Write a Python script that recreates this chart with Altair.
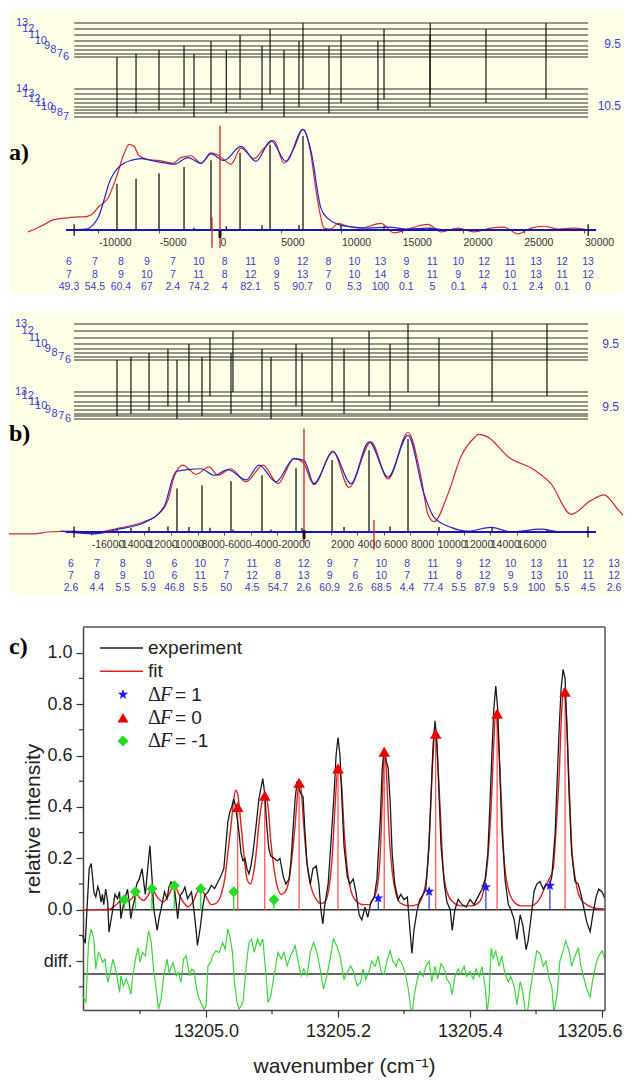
import altair as alt
import numpy as np
import pandas as pd

SANS = "Liberation Sans"
SERIF = "Liberation Serif"
TXT_BLUE = "#3b3fcf"
YELLOW = "#fffee6"
RED_LINE = "#d42a2a"
BLUE_LINE = "#2424c8"

# ===================== panel a data =====================
a_upper_F = [13, 12, 11, 10, 9, 8, 7, 6]
a_upper_E = [94, 88, 82, 76, 71, 67, 63, 60]
a_lower_F = [14, 13, 12, 11, 10, 9, 8, 7]
a_lower_E = [28, 23, 18, 14, 10, 7, 4, 0]
a_t_up = [6, 7, 8, 9, 7, 10, 8, 11, 9, 12, 8, 10, 13, 9, 11, 10, 12, 11, 13, 12, 13]
a_t_lo = [7, 8, 9, 10, 7, 11, 8, 12, 9, 13, 7, 10, 14, 8, 11, 9, 12, 10, 13, 11, 12]
a_t_f = [-8480, -6910, -5020, -2960, -2140, -740, 520, 1650, 3460, 4120, 5270,
         6500, 6830, 8970, 9960, 13000, 13500, 17280, 17300, 21890, 26830]
a_t_I = [49.3, 54.5, 60.4, 67, 2.4, 74.2, 4, 82.1, 5, 90.7, 0, 5.3, 100, 0.1, 5,
         0.1, 4, 0.1, 2.4, 0.1, 0]
a_J = ["9.5", "10.5"]
a_J_E = [73, 11]
a_diagram = [-12000, 30300]
a_baseline = [-12670, 30950]
a_ticks = [-10000, -5000, 0, 5000, 10000, 15000, 20000, 25000, 30000]
a_red_f = [-15800, -14730, -13660, -12510, -11690, -11190, -10620, -9960, -9220, -8560,
           -7900, -7490, -7080, -6670, -5930, -5100, -4280, -3870, -3210, -2390,
           -1560, -740, -80, 910, 1730, 2800, 3620, 4440, 5270, 6090,
           6830, 7490, 7900, 8310, 8560, 9140, 9710, 10530, 11600, 13250,
           14320, 15720, 17120, 18190, 19590, 20910, 22300, 23370, 24530, 25600,
           26670, 27820, 29140, 30290]
a_red_v = [-2, 4, 11, 13, 14, 14, 16, 25, 34, 55,
           81, 91, 89, 79, 75, 74, 72, 71, 77, 79,
           71, 82, 79, 70, 87, 76, 87, 95, 71, 87,
           107, 80, 42, 13, 2, 1, 7, 4, 2, 7,
           -3, 2, 6, -2, 2, -2, 2, 3, -4, 2,
           4, 1, 2, 0]
a_blue_f = [-12670, -11030, -10040, -8970, -8400, -7900, -7330, -6500, -5680, -4860,
            -3790, -2630, -1560, -740, 330, 1730, 2960, 4200, 5430, 6830,
            7490, 8310, 8890, 9710, 11030, 12180, 13830, 15470, 17120, 18770, 30950]
a_blue_v = [0, 1, 13, 55, 66, 71, 74, 76, 74, 72,
            70, 77, 71, 81, 74, 89, 73, 95, 73, 107,
            84, 23, 12, 6, 3, 2, 3, 1, 2, 0, 0]
a_mark_f = [0, -660]
a_mark_lo = [-19, -19]
a_mark_hi = [111, 13]
a_zero = [0]
a_zero_lo = [-8.5]
a_zero_hi = [-1]

# ===================== panel b data =====================
b_upper_F = [13, 12, 11, 10, 9, 8, 7, 6]
b_upper_E = [95, 88, 81, 75, 70, 66, 62, 59]
b_lower_F = [13, 12, 11, 10, 9, 8, 7, 6]
b_lower_E = [27, 23, 17, 13, 9, 5, 3, 0]
b_t_up = [6, 7, 8, 9, 6, 10, 7, 11, 8, 12, 9, 7, 10, 8, 11, 9, 12, 10, 13, 11, 12, 13]
b_t_lo = [7, 8, 9, 10, 6, 11, 7, 12, 8, 13, 9, 6, 10, 7, 11, 8, 12, 9, 13, 10, 11, 12]
b_t_f = [-14060, -13010, -11650, -10230, -9550, -8650, -7670, -7070, -5490, -5340, -3160,
         -2480, -600, -150, 2110, 3010, 4890, 6470, 7820, 10150, 14140, 18270]
b_t_I = [2.6, 4.4, 5.5, 5.9, 46.8, 5.5, 50, 4.5, 54.7, 2.6, 60.9, 2.6, 68.5, 4.4,
         77.4, 5.5, 87.9, 5.9, 100, 5.5, 4.5, 2.6]
b_J = ["9.5", "9.5"]
b_J_E = [75, 12]
b_diagram = [-17290, 21350]
b_baseline = [-17890, 21950]
b_ticks = [-16000, -14000, -12000, -10000, -8000, -6000, -4000, -2000, 0,
           2000, 4000, 6000, 8000, 10000, 12000, 14000, 16000]
b_red_f = [-22180, -20300, -19250, -17290, -15790, -15260, -13980, -12030, -10980, -10230,
           -9770, -9100, -8120, -7140, -6470, -5490, -4360, -3080, -1950, -750,
           -80, 750, 2180, 3380, 5040, 6320, 7820, 8800, 9320, 9770,
           10830, 11800, 12710, 13160, 13830, 15340, 17290, 18570, 20080, 21580,
           22560, 23610, 24810]
b_red_v = [-2, -2, 0, 1, -2, 0, 4, 11, 19, 34,
           59, 72, 62, 70, 61, 68, 54, 72, 52, 79,
           75, 51, 87, 48, 97, 57, 107, 59, 19, 11,
           41, 81, 100, 105, 102, 81, 67, 52, 19, 34,
           40, 24, 5]
b_blue_f = [-18270, -15790, -13980, -12030, -10530, -9620, -8720, -7740, -6770, -5710,
            -4360, -3380, -2110, -750, 0, 750, 2180, 3530, 4890, 6320,
            7820, 9020, 9770, 11050, 12330, 14060, 15560, 17820, 19320, 21950]
b_blue_v = [1, -2, 3, 10, 27, 65, 67, 68, 61, 67,
            56, 72, 54, 79, 77, 52, 86, 52, 97, 59,
            104, 41, 16, 5, 1, 5, 0, 3, 0, 0]
b_mark_f = [0, 5260]
b_mark_lo = [-11, -19]
b_mark_hi = [111, 13]
b_zero = [0]
b_zero_lo = [-7.5]
b_zero_hi = [2]

# ===================== panel c data =====================
c_base = 13205.0
c_xdom = [13204.8136, 13205.6045]
c_ydom = [-0.39, 1.1]
c_exp_dw = [-187, -183, -180, -177, -174, -172, -170, -167, -164, -162,
            -159, -157, -155, -152, -149, -147, -144, -142, -138, -134,
            -131, -129, -125, -122, -119, -116, -114, -111, -108, -105,
            -101, -97, -92, -88, -85, -82, -79, -74, -71, -68,
            -63, -59, -56, -53, -48, -45, -43, -39, -35, -32,
            -28, -22, -18, -15, -13, -9, -5, -2, 3, 8,
            13, 18, 23, 27,
            30, 33, 36, 39, 42, 44, 47, 50, 53, 56,
            59, 62, 65, 68, 71, 76, 80, 83, 86, 89,
            92, 95, 98, 103, 108, 112, 117, 121, 126, 129,
            132, 135, 138, 141, 144, 147, 150, 153, 158, 162,
            167, 171, 174, 177, 180, 185, 189, 194, 197, 200,
            203, 206, 209, 214, 218, 223, 227, 232, 236, 241,
            245, 250, 255, 259, 264, 267, 270, 273, 276, 279,
            282, 286, 291, 295, 300, 305, 309, 312, 315, 320,
            324, 329, 333, 338, 341, 344, 347, 350, 353, 356,
            361, 365, 370, 373, 377, 382, 388, 394, 400, 406,
            412, 418, 423, 427, 430, 433, 436, 439, 442, 445,
            448, 453, 458, 462, 467, 471, 476, 480, 485, 488,
            492, 497, 501, 506, 511, 515, 520, 524, 529, 532,
            535, 538, 541, 544, 547, 550, 554, 559, 564, 568,
            573, 577, 582, 586, 591, 595, 600, 604]
c_exp_v = [-0.10, -0.13, 0.02, 0.16, 0.18, 0.13, 0.07, 0.05, 0.09, 0.075,
           0.03, 0.06, 0.02, 0.08, 0.03, -0.087, -0.04, -0.01, 0.06, 0.043,
           0.07, -0.035, 0.023, 0.05, 0.08, 0.02, -0.035, 0.01, 0.043, 0.10,
           0.12, 0.16, 0.06, 0.17, 0.25, 0.13, 0.0, -0.08, -0.03, 0.004,
           0.07, 0.043, 0.09, 0.108, 0.088, 0.02, -0.035, 0.056, 0.07, 0.088,
           0.043, 0.069, -0.009, -0.08, -0.139, -0.074, 0.01, 0.056, 0.069, 0.095,
           0.082, 0.108, 0.134, 0.16,
           0.25, 0.34, 0.38, 0.40, 0.43, 0.41, 0.36, 0.30, 0.22, 0.19,
           0.20, 0.16, 0.14, 0.17, 0.22, 0.33, 0.43, 0.47, 0.51, 0.45,
           0.33, 0.24, 0.21, 0.20, 0.19, 0.20, 0.13, 0.10, 0.12, 0.20,
           0.32, 0.43, 0.50, 0.47, 0.45, 0.44, 0.30, 0.18, 0.10, 0.16,
           0.17, 0.10, 0.0, -0.055, 0.02, 0.10, 0.25, 0.45, 0.60, 0.67,
           0.60, 0.42, 0.25, 0.13, 0.10, 0.12, 0.07, -0.02, -0.04, 0.01,
           -0.03, 0.03, 0.05, 0.12, 0.35, 0.55, 0.63, 0.58, 0.55, 0.42,
           0.22, 0.10, 0.04, 0.06, 0.04, 0.05, -0.08, -0.17, -0.08, 0.0,
           0.04, 0.06, 0.08, 0.25, 0.45, 0.64, 0.735, 0.65, 0.45, 0.25,
           0.10, 0.03, 0.0, -0.08, 0.0, 0.04, 0.02, 0.01, 0.04, 0.02,
           0.05, 0.08, 0.12, 0.22, 0.40, 0.60, 0.78, 0.87, 0.78, 0.55,
           0.33, 0.12, 0.02, 0.0, -0.04, -0.115, -0.02, -0.06, -0.155, -0.12,
           -0.04, 0.07, 0.10, 0.11, 0.08, 0.10, 0.09, 0.13, 0.30, 0.50,
           0.70, 0.86, 0.935, 0.90, 0.70, 0.45, 0.22, 0.11, 0.10, 0.06,
           0.0, -0.05, -0.085, -0.02, 0.05, 0.08, 0.07, 0.045]
c_fit_dw = [-187, -159, -147, -138, -132, -124, -117, -112, -106, -100,
            -95, -89, -82, -74, -65, -58, -48, -41, -33, -27,
            -20, -9, 0, 8, 15, 23, 29, 33, 38, 42,
            45, 48, 53, 58, 62, 67, 71, 76, 80, 85,
            89, 94, 98, 103, 108, 114, 120, 126, 130, 135,
            138, 141, 144, 148, 153, 159, 167, 174, 180, 186,
            191, 195, 200, 205, 209, 214, 220, 229, 238, 247,
            253, 259, 264, 267, 270, 273, 277, 282, 288, 295,
            308, 320, 329, 335, 339, 344, 347, 350, 355, 359,
            365, 374, 386, 402, 414, 421, 427, 432, 436, 439,
            442, 447, 451, 458, 467, 477, 492, 505, 514, 520,
            526, 530, 535, 539, 542, 545, 550, 554, 561, 568,
            580, 592, 604]
c_fit_v = [0, 0, 0.002, 0.015, 0.03, 0.05, 0.035, 0.045, 0.062, 0.045,
           0.036, 0.05, 0.08, 0.05, 0.03, 0.05, 0.095, 0.06, 0.025, 0.012,
           0.03, 0.085, 0.05, 0.02, 0.025, 0.06, 0.13, 0.22, 0.33, 0.43,
           0.465, 0.45, 0.33, 0.2, 0.12, 0.1, 0.13, 0.22, 0.33, 0.42,
           0.45, 0.4, 0.27, 0.16, 0.09, 0.06, 0.07, 0.12, 0.2, 0.33,
           0.43, 0.495, 0.47, 0.33, 0.18, 0.09, 0.04, 0.025, 0.03, 0.08,
           0.2, 0.38, 0.555, 0.5, 0.32, 0.16, 0.07, 0.03, 0.02, 0.02,
           0.04, 0.08, 0.22, 0.42, 0.62, 0.55, 0.32, 0.15, 0.06, 0.025,
           0.015, 0.02, 0.06, 0.15, 0.33, 0.6, 0.7, 0.62, 0.38, 0.17,
           0.07, 0.03, 0.015, 0.015, 0.03, 0.08, 0.2, 0.4, 0.65, 0.77,
           0.7, 0.45, 0.22, 0.08, 0.03, 0.015, 0.015, 0.04, 0.09, 0.12,
           0.16, 0.3, 0.52, 0.78, 0.86, 0.8, 0.5, 0.25, 0.1, 0.04,
           0.015, 0.005, 0.003]
c_diff_dw = [-187, -182, -178, -174, -170, -167, -163, -160, -157, -153,
             -149, -145, -141, -136, -131, -129, -125, -121, -117, -114,
             -111, -106, -103, -100, -96, -92, -87, -83, -79, -76,
             -72, -68, -64, -59, -56, -50, -45, -42, -38, -34,
             -30, -25, -22, -18, -15, -12, -8, -3, 0, 3,
             7, 10, 15, 20, 25, 29, 33, 36, 40, 43,
             47, 50, 56, 61, 65, 69, 73, 78, 82, 86,
             91, 94, 98, 103, 109, 114, 118, 123, 128, 131,
             135, 139, 144, 148, 153, 158, 163, 168, 173, 178,
             183, 188, 193, 198, 203, 209, 214, 219, 224, 229,
             234, 238, 242, 247, 251, 256, 261, 265, 270, 274,
             279, 283, 288, 292, 297, 301, 306, 309, 312, 315,
             320, 324, 329, 333, 338, 342, 347, 351, 356, 361,
             365, 370, 373, 377, 382, 386, 391, 395, 400, 405,
             409, 414, 418, 423, 426, 429, 432, 435, 439, 444,
             448, 453, 458, 462, 467, 471, 476, 480, 485, 488,
             492, 497, 501, 506, 511, 515, 520, 524, 527, 532,
             536, 541, 545, 550, 554, 559, 564, 568, 573, 577,
             582, 586, 591, 595, 600, 604]
c_diff_v = [-0.335, -0.36, -0.127, -0.075, -0.114, -0.231, -0.166, -0.179, -0.205, -0.192,
            -0.283, -0.244, -0.192, -0.244, -0.322, -0.257, -0.296, -0.27, -0.296, -0.328,
            -0.257, -0.179, -0.147, -0.205, -0.166, -0.179, -0.082, -0.127, -0.244, -0.296,
            -0.387, -0.348, -0.257, -0.192, -0.244, -0.205, -0.257, -0.244, -0.283, -0.192,
            -0.179, -0.257, -0.231, -0.238, -0.296, -0.335, -0.361, -0.387, -0.374, -0.218,
            -0.205, -0.179, -0.16, -0.166, -0.127, -0.153, -0.075, -0.101, -0.166, -0.283,
            -0.361, -0.387, -0.361, -0.218, -0.127, -0.114, -0.166, -0.114, -0.14, -0.114,
            -0.257, -0.361, -0.335, -0.257, -0.166, -0.192, -0.166, -0.218, -0.179, -0.166,
            -0.14, -0.192, -0.257, -0.231, -0.257, -0.166, -0.127, -0.166, -0.231, -0.309,
            -0.257, -0.192, -0.114, -0.14, -0.179, -0.27, -0.244, -0.218, -0.244, -0.296,
            -0.283, -0.23, -0.27, -0.24, -0.2, -0.22, -0.18, -0.24, -0.25, -0.2,
            -0.16, -0.2, -0.22, -0.19, -0.21, -0.24, -0.3, -0.36, -0.42, -0.34,
            -0.27, -0.24, -0.26, -0.22, -0.2, -0.28, -0.22, -0.27, -0.21, -0.23,
            -0.27, -0.29, -0.33, -0.26, -0.23, -0.25, -0.22, -0.26, -0.24, -0.27,
            -0.23, -0.26, -0.22, -0.3, -0.4, -0.33, -0.15, -0.19, -0.16, -0.22,
            -0.18, -0.25, -0.28, -0.26, -0.3, -0.37, -0.28, -0.32, -0.42, -0.38,
            -0.3, -0.22, -0.16, -0.17, -0.22, -0.2, -0.27, -0.3, -0.4, -0.33,
            -0.2, -0.16, -0.12, -0.16, -0.22, -0.18, -0.15, -0.22, -0.27, -0.31,
            -0.34, -0.27, -0.21, -0.18, -0.16, -0.19]
c_df0_dw = [48, 89, 141, 200, 270, 348, 441, 544]
c_df0_v = [0.40, 0.444, 0.494, 0.55, 0.615, 0.685, 0.763, 0.848]
c_df1_dw = [261, 338, 424, 521]
c_df1_v = [0.045, 0.071, 0.088, 0.094]
c_dfm1_dw = [-124, -107, -82, -48, -8, 42, 103]
c_dfm1_v = [0.039, 0.07, 0.082, 0.093, 0.082, 0.07, 0.039]
c_baselines = [0.0, -0.25]
c_xticks = [13205.0, 13205.2, 13205.4, 13205.6]
c_xminor = [13204.9, 13205.1, 13205.3, 13205.5]
c_yticks = [-0.2, 0.0, 0.2, 0.4, 0.6, 0.8, 1.0]
c_yminor = [-0.3, -0.1, 0.1, 0.3, 0.5, 0.7, 0.9]
legend_labels = ["experiment", "fit"]
legend_eq = ["= 1", "= 0", "= -1"]

STAR = ("M0,-1L0.235,-0.324L0.951,-0.309L0.380,0.124L0.588,0.809L0,0.4"
        "L-0.588,0.809L-0.380,0.124L-0.951,-0.309L-0.235,-0.324Z")


def spectrum_panel(p):
    xs = alt.Scale(domain=p["xdom"], nice=False, zero=False)
    s_int = alt.Scale(domain=[0, 100], range=p["int_range"], nice=False, zero=False)
    s_lev = alt.Scale(domain=p["lev_dom"], range=p["lev_range"], nice=False, zero=False)
    up_map = dict(zip(p["upper_F"], p["upper_E"]))
    lo_map = dict(zip(p["lower_F"], p["lower_E"]))

    lev_df = pd.DataFrame({"E": list(p["upper_E"]) + list(p["lower_E"])})
    lev_df["x0"] = p["diagram"][0]
    lev_df["x1"] = p["diagram"][1]
    levels = alt.Chart(lev_df).mark_rule(color="#2a2a2a", strokeWidth=1).encode(
        x=alt.X("x0:Q", scale=xs, axis=None), x2="x1:Q",
        y=alt.Y("E:Q", scale=s_lev, axis=None))

    tr_df = pd.DataFrame({"f": p["t_f"], "Fu": p["t_up"], "Fl": p["t_lo"], "I": p["t_I"]})
    tr_df["Eu"] = [up_map[v] for v in p["t_up"]]
    tr_df["El"] = [lo_map[v] for v in p["t_lo"]]
    trans = alt.Chart(tr_df).mark_rule(color="#151515", strokeWidth=1.2).encode(
        x=alt.X("f:Q", scale=xs, axis=None),
        y=alt.Y("Eu:Q", scale=s_lev, axis=None), y2="El:Q")

    n_up, n_lo = len(p["upper_F"]), len(p["lower_F"])
    lab_df = pd.DataFrame({
        "F": [str(v) for v in list(p["upper_F"]) + list(p["lower_F"])],
        "E": list(p["upper_E"]) + list(p["lower_E"]),
        "k": list(range(n_up)) + list(range(n_lo))})
    lab = alt.Chart(lab_df).mark_text(font=SANS, fontSize=11, color=TXT_BLUE).encode(
        x=alt.X("k:Q", scale=alt.Scale(domain=[0, 7], range=p["lab_x"], nice=False, zero=False), axis=None),
        y=alt.Y("E:Q", scale=s_lev, axis=None), text="F:N")

    j_df = pd.DataFrame({"J": p["J"], "E": p["J_E"]})
    jlab = alt.Chart(j_df).mark_text(font=SANS, fontSize=12, color=TXT_BLUE, align="right").encode(
        x=alt.value(p["J_x"]), y=alt.Y("E:Q", scale=s_lev, axis=None), text="J:N")

    red = alt.Chart(pd.DataFrame({"f": p["red_f"], "v": p["red_v"]})).mark_line(
        color=RED_LINE, strokeWidth=1.2, clip=True, interpolate="monotone").encode(
        x=alt.X("f:Q", scale=xs, axis=None), y=alt.Y("v:Q", scale=s_int, axis=None))
    blue = alt.Chart(pd.DataFrame({"f": p["blue_f"], "v": p["blue_v"]})).mark_line(
        color=BLUE_LINE, strokeWidth=1.2, clip=True, interpolate="monotone").encode(
        x=alt.X("f:Q", scale=xs, axis=None), y=alt.Y("v:Q", scale=s_int, axis=None))

    axis_def = alt.Axis(values=p["ticks"], labelExpr="datum.value + ''", labelAlign="left",
                        labelFont=SANS, labelFontSize=10.5, labelColor="#333",
                        tickSize=3, tickColor="#555", domain=False, grid=False,
                        offset=p["axis_offset"], labelOverlap=False, labelFlush=False,
                        labelPadding=4, title=None)
    sticks = alt.Chart(tr_df).mark_rule(color="#151515", strokeWidth=1.3).encode(
        x=alt.X("f:Q", scale=xs, axis=axis_def),
        y=alt.Y("I:Q", scale=s_int, axis=None), y2=alt.datum(0))

    bl = alt.Chart(pd.DataFrame({"x0": [p["baseline"][0]], "x1": [p["baseline"][1]], "v": [0]})).mark_rule(
        color="#1414c8", strokeWidth=2).encode(
        x=alt.X("x0:Q", scale=xs, axis=None), x2="x1:Q", y=alt.Y("v:Q", scale=s_int, axis=None))

    cross = alt.Chart(pd.DataFrame({"f": p["diagram"]})).mark_rule(color="#151515", strokeWidth=1.3).encode(
        x=alt.X("f:Q", scale=xs, axis=None),
        y=alt.Y(datum=-6, scale=s_int, axis=None), y2=alt.datum(6))

    rm = alt.Chart(pd.DataFrame({"f": p["mark_f"], "lo": p["mark_lo"], "hi": p["mark_hi"]})).mark_rule(
        color="#d02020", strokeWidth=1.3).encode(
        x=alt.X("f:Q", scale=xs, axis=None),
        y=alt.Y("lo:Q", scale=s_int, axis=None), y2="hi:Q")

    zm = alt.Chart(pd.DataFrame({"f": p["zero"], "lo": p["zero_lo"], "hi": p["zero_hi"]})).mark_rule(
        color="#151515", strokeWidth=3).encode(
        x=alt.X("f:Q", scale=xs, axis=None),
        y=alt.Y("lo:Q", scale=s_int, axis=None), y2="hi:Q")

    rows = []
    for i, (fu, fl, inten) in enumerate(zip(p["t_up"], p["t_lo"], p["t_I"])):
        rows.append({"col": i, "row": 0, "txt": str(fu)})
        rows.append({"col": i, "row": 1, "txt": str(fl)})
        rows.append({"col": i, "row": 2, "txt": f"{inten:g}"})
    rows_df = pd.DataFrame(rows)
    ncol = len(p["t_up"])
    rtext = alt.Chart(rows_df).mark_text(font=SANS, fontSize=10.5, color=TXT_BLUE).encode(
        x=alt.X("col:Q", scale=alt.Scale(domain=[0, ncol - 1], range=p["col_range"], nice=False, zero=False), axis=None),
        y=alt.Y("row:Q", scale=alt.Scale(domain=[0, 2], range=p["rows_range"], nice=False, zero=False), axis=None),
        text="txt:N")

    plabel = alt.Chart(pd.DataFrame({"t": [p["label"]]})).mark_text(
        font=SERIF, fontSize=24, fontWeight="bold", align="left", color="#000").encode(
        x=alt.value(0), y=alt.value(p["label_y"]), text="t:N")

    return alt.layer(levels, trans, red, blue, sticks, bl, cross, rm, zm, lab, jlab, rtext, plabel).resolve_scale(
        x="independent", y="independent").properties(
        width=p["W"], height=p["H"], view=alt.ViewBackground(fill=YELLOW, stroke="transparent"))


pa = dict(upper_F=a_upper_F, upper_E=a_upper_E, lower_F=a_lower_F, lower_E=a_lower_E,
          t_up=a_t_up, t_lo=a_t_lo, t_f=a_t_f, t_I=a_t_I, J=a_J, J_E=a_J_E,
          diagram=a_diagram, baseline=a_baseline, ticks=a_ticks,
          red_f=a_red_f, red_v=a_red_v, blue_f=a_blue_f, blue_v=a_blue_v,
          mark_f=a_mark_f, mark_lo=a_mark_lo, mark_hi=a_mark_hi,
          zero=a_zero, zero_lo=a_zero_lo, zero_hi=a_zero_hi,
          W=614, H=284, xdom=[-17366, 33169], int_range=[221, 127],
          lev_dom=[0, 94], lev_range=[108, 14], lab_x=[13, 57], J_x=612,
          col_range=[60, 579], rows_range=[253, 278], axis_offset=-63,
          label="a)", label_y=144)
pb = dict(upper_F=b_upper_F, upper_E=b_upper_E, lower_F=b_lower_F, lower_E=b_lower_E,
          t_up=b_t_up, t_lo=b_t_lo, t_f=b_t_f, t_I=b_t_I, J=b_J, J_E=b_J_E,
          diagram=b_diagram, baseline=b_baseline, ticks=b_ticks,
          red_f=b_red_f, red_v=b_red_v, blue_f=b_blue_f, blue_v=b_blue_v,
          mark_f=b_mark_f, mark_lo=b_mark_lo, mark_hi=b_mark_hi,
          zero=b_zero, zero_lo=b_zero_lo, zero_hi=b_zero_hi,
          W=614, H=283, xdom=[-22180, 23985], int_range=[221, 128],
          lev_dom=[0, 95], lev_range=[108, 13], lab_x=[12, 59], J_x=610,
          col_range=[62, 605], rows_range=[253, 277], axis_offset=-62,
          label="b)", label_y=123)

panel_a = spectrum_panel(pa)
panel_b = spectrum_panel(pb)

# ===================== panel c =====================
C_LEFT = 74          # room for the y axis inside the panel group
W_C, H_C = 522, 383
W_CG = C_LEFT + W_C

x_axis_c = alt.Axis(values=c_xticks, format=".1f", title="wavenumber (cm\u207b\u00b9)",
                    labelFont=SANS, labelFontSize=18, labelColor="#222",
                    titleFont=SANS, titleFontSize=21, titleFontWeight="normal", titleColor="#222",
                    tickSize=7, tickColor="#333", tickWidth=1.2, domainColor="#444", domainWidth=1.5,
                    labelPadding=5, titlePadding=15, grid=False,
                    labelFlush=6, labelFlushOffset=20)
y_axis_c = alt.Axis(values=c_yticks,
                    labelExpr="datum.value < -0.1 ? 'diff.' : format(datum.value, '.1f')",
                    title="relative intensity",
                    labelFont=SANS, labelFontSize=18, labelColor="#222",
                    titleFont=SANS, titleFontSize=21, titleFontWeight="normal", titleColor="#222",
                    tickSize=7, tickColor="#333", tickWidth=1.2, domainColor="#444", domainWidth=1.5,
                    labelPadding=4, titlePadding=0, grid=False, offset=-C_LEFT)
xsc = alt.Scale(domain=c_xdom, range=[C_LEFT, W_CG], nice=False, zero=False)
ysc = alt.Scale(domain=c_ydom, nice=False, zero=False)
xc = alt.X("w:Q", scale=xsc, axis=x_axis_c)
yc = alt.Y("v:Q", scale=ysc, axis=y_axis_c)


def cdf(dw, v):
    return pd.DataFrame({"w": c_base + np.array(dw) / 1000.0, "v": v})


# frame: top and right borders of the plot box
frame_top = alt.Chart(pd.DataFrame({"w": [c_xdom[0]], "w2": [c_xdom[1]], "v": [c_ydom[1]]})).mark_rule(
    color="#555", strokeWidth=1.5).encode(x=xc, x2="w2:Q", y=yc)
frame_right = alt.Chart(pd.DataFrame({"w": [c_xdom[1]], "v": [c_ydom[0]], "v2": [c_ydom[1]]})).mark_rule(
    color="#555", strokeWidth=1.5).encode(x=xc, y=yc, y2="v2:Q")

base_lines = alt.Chart(pd.DataFrame({"w": [c_xdom[0]] * 2, "w2": [c_xdom[1]] * 2, "v": c_baselines})).mark_rule(
    color="#333", strokeWidth=1.3).encode(x=xc, x2="w2:Q", y=yc)
st0 = alt.Chart(cdf(c_df0_dw, c_df0_v)).mark_rule(color="#ff4a4a", strokeWidth=1.2).encode(x=xc, y=yc, y2=alt.datum(0))
st1 = alt.Chart(cdf(c_df1_dw, c_df1_v)).mark_rule(color="#2030ff", strokeWidth=1.2).encode(x=xc, y=yc, y2=alt.datum(0))
stm = alt.Chart(cdf(c_dfm1_dw, c_dfm1_v)).mark_rule(color="#3ade3a", strokeWidth=1.5).encode(x=xc, y=yc, y2=alt.datum(0))
fit = alt.Chart(cdf(c_fit_dw, c_fit_v)).mark_line(color="#e3201c", strokeWidth=1.4, clip=True,
                                                   interpolate="monotone").encode(x=xc, y=yc)
exp_line = alt.Chart(cdf(c_exp_dw, c_exp_v)).mark_line(color="#1a1a1a", strokeWidth=1.3, clip=True).encode(x=xc, y=yc)
diff = alt.Chart(cdf(c_diff_dw, c_diff_v)).mark_line(color="#3ad63a", strokeWidth=1.2, clip=True).encode(x=xc, y=yc)
p0 = alt.Chart(cdf(c_df0_dw, c_df0_v)).mark_point(shape="triangle-up", filled=True, size=135,
                                                   color="#ee0000", opacity=1).encode(x=xc, y=yc)
p1 = alt.Chart(cdf(c_df1_dw, c_df1_v)).mark_point(shape=STAR, filled=True, size=120,
                                                   color="#1a1aff", opacity=1).encode(x=xc, y=yc)
pm = alt.Chart(cdf(c_dfm1_dw, c_dfm1_v)).mark_point(shape="diamond", filled=True, size=120,
                                                     color="#22dd22", opacity=1).encode(x=xc, y=yc)
minor_x = alt.Chart(pd.DataFrame({"w": c_xminor})).mark_rule(color="#333", strokeWidth=1.2).encode(
    x=xc, y=alt.value(H_C), y2=alt.value(H_C + 4))
minor_y = alt.Chart(pd.DataFrame({"v": c_yminor})).mark_rule(color="#333", strokeWidth=1.2).encode(
    y=yc, x=alt.value(C_LEFT), x2=alt.value(C_LEFT - 4))

c_main = alt.layer(base_lines, st0, st1, stm, fit, exp_line, diff, p0, p1, pm,
                   frame_top, frame_right, minor_x, minor_y)

leg_scale = alt.Scale(domain=[0, 4], range=[21, 114], nice=False, zero=False)
leg_lines = alt.Chart(pd.DataFrame({"row": [0, 1], "c": ["#1a1a1a", "#e3201c"]})).mark_rule(strokeWidth=1.5).encode(
    x=alt.value(C_LEFT + 17), x2=alt.value(C_LEFT + 60), y=alt.Y("row:Q", scale=leg_scale, axis=None),
    color=alt.Color("c:N", scale=None))
leg_text = alt.Chart(pd.DataFrame({"row": [0, 1], "label": legend_labels})).mark_text(
    font=SANS, fontSize=19, align="left", color="#222").encode(
    x=alt.value(C_LEFT + 65), y=alt.Y("row:Q", scale=leg_scale, axis=None), text="label:N")
leg_sym_df = pd.DataFrame({"row": [2, 3, 4], "shape": [STAR, "triangle-up", "diamond"],
                           "c": ["#1a1aff", "#ee0000", "#22dd22"], "eq": legend_eq})
leg_pts = alt.Chart(leg_sym_df).mark_point(filled=True, size=120, opacity=1).encode(
    x=alt.value(C_LEFT + 40), y=alt.Y("row:Q", scale=leg_scale, axis=None),
    shape=alt.Shape("shape:N", scale=None), color=alt.Color("c:N", scale=None))
leg_delta = alt.Chart(leg_sym_df).mark_text(font=SERIF, fontSize=20, align="left", color="#222", text="\u0394").encode(
    x=alt.value(C_LEFT + 65), y=alt.Y("row:Q", scale=leg_scale, axis=None))
leg_F = alt.Chart(leg_sym_df).mark_text(font=SERIF, fontSize=20, align="left", fontStyle="italic",
                                        color="#222", text="F").encode(
    x=alt.value(C_LEFT + 77), y=alt.Y("row:Q", scale=leg_scale, axis=None))
leg_eq = alt.Chart(leg_sym_df).mark_text(font=SANS, fontSize=19, align="left", color="#222").encode(
    x=alt.value(C_LEFT + 92), y=alt.Y("row:Q", scale=leg_scale, axis=None), text="eq:N")
c_label = alt.Chart(pd.DataFrame({"t": ["c)"]})).mark_text(
    font=SERIF, fontSize=24, fontWeight="bold", align="left", color="#000").encode(
    x=alt.value(0), y=alt.value(20), text="t:N")

panel_c = alt.layer(c_main, leg_lines, leg_text, leg_pts, leg_delta, leg_F, leg_eq, c_label).resolve_scale(
    y="independent").properties(width=W_CG, height=H_C,
                                view=alt.ViewBackground(fill="white", stroke="transparent"))

chart = alt.vconcat(alt.vconcat(panel_a, panel_b, spacing=16), panel_c, spacing=30).properties(
    padding=0).configure_view(stroke="transparent")

chart.save("out.html", embed_options={"renderer": "svg", "actions": False})
